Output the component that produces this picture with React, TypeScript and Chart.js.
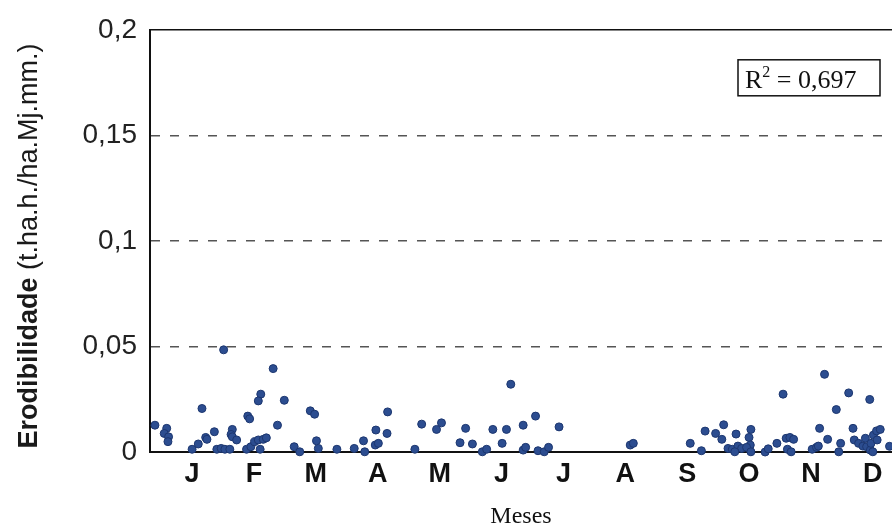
import { useEffect, useRef } from 'react';
import { Chart, registerables } from 'chart.js';

Chart.register(...registerables);

// Month initials shown under the axis (tick k = month k)
const monthLabels = ['J', 'F', 'M', 'A', 'M', 'J', 'J', 'A', 'S', 'O', 'N', 'D'];
const monthTicks = [1, 2, 3, 4, 5, 6, 7, 8, 9, 10, 11, 12];
const yTickValues = [0, 0.05, 0.1, 0.15, 0.2];

// Position of each event in months (1 = mid-January)
const monthPos = [
  0.40, 0.59, 0.55, 0.62, 0.61, 1.00, 1.10, 1.22, 1.24, 1.16,
  1.36, 1.40, 1.47, 1.53, 1.61, 1.51, 1.65, 1.63, 1.65, 1.72,
  1.88, 1.95, 2.01, 2.07, 2.15, 2.10, 1.90, 1.93, 2.11, 2.07,
  2.31, 2.49, 2.38, 2.20, 2.65, 2.74, 2.91, 2.98, 3.01, 3.04,
  3.34, 3.62, 3.77, 3.79, 3.97, 3.96, 4.01, 4.16, 4.15, 4.60,
  4.71, 5.03, 4.95, 5.42, 5.33, 5.53, 5.69, 5.76, 5.86, 6.01,
  6.08, 6.15, 6.35, 6.55, 6.93, 6.35, 6.39, 6.59, 6.69, 6.76,
  8.08, 8.13, 9.05, 9.23, 9.29, 9.46, 9.56, 9.59, 9.79, 10.03,
  10.00, 10.02, 9.66, 9.73, 9.82, 9.88, 9.96, 9.77, 10.03, 10.26,
  10.31, 10.45, 10.55, 10.60, 10.66, 10.72, 10.62, 10.68, 11.02, 11.09,
  11.12, 11.14, 11.22, 11.27, 11.41, 11.45, 11.48, 11.61, 11.68, 11.70,
  11.77, 11.84, 11.88, 11.90, 11.96, 12.00, 12.01, 12.06, 12.12, 11.97,
  12.07, 11.95, 12.27,
];

// Erodibility of each event (t.ha.h./ha.Mj.mm.)
const erodibilidade = [
  0.0127, 0.0112, 0.0088, 0.0072, 0.0049, 0.0013, 0.0038, 0.0069, 0.0060, 0.0206,
  0.0096, 0.0013, 0.0017, 0.0013, 0.0013, 0.0484, 0.0107, 0.0083, 0.0072, 0.0057,
  0.0013, 0.0025, 0.0049, 0.0057, 0.0060, 0.0013, 0.0170, 0.0157, 0.0274, 0.0242,
  0.0395, 0.0245, 0.0127, 0.0067, 0.0025, 0.0001, 0.0195, 0.0179, 0.0053, 0.0017,
  0.0013, 0.0017, 0.0053, 0.0001, 0.0104, 0.0033, 0.0041, 0.0190, 0.0088, 0.0013,
  0.0132, 0.0138, 0.0107, 0.0112, 0.0044, 0.0038, 0.0001, 0.0013, 0.0107, 0.0041,
  0.0107, 0.0321, 0.0127, 0.0170, 0.0119, 0.0009, 0.0022, 0.0006, 0.0001, 0.0022,
  0.0033, 0.0041, 0.0041, 0.0006, 0.0099, 0.0088, 0.0060, 0.0129, 0.0085, 0.0107,
  0.0069, 0.0033, 0.0017, 0.0013, 0.0028, 0.0017, 0.0022, 0.0001, 0.0001, 0.0000,
  0.0015, 0.0041, 0.0274, 0.0065, 0.0069, 0.0060, 0.0013, 0.0001, 0.0013, 0.0022,
  0.0028, 0.0112, 0.0368, 0.0060, 0.0201, 0.0001, 0.0041, 0.0280, 0.0112, 0.0057,
  0.0041, 0.0028, 0.0065, 0.0025, 0.0009, 0.0001, 0.0080, 0.0100, 0.0107, 0.0041,
  0.0057, 0.0249, 0.0027,
];

const r2Value = '0,697';
const yTitleBold = 'Erodibilidade ';
const yTitleUnits = '(t.ha.h./ha.Mj.mm.)';
const xTitle = 'Meses';

const SANS = '"Liberation Sans", Arial, sans-serif';
const SERIF = '"Liberation Serif", "Times New Roman", serif';

const decorations = {
  id: 'decorations',
  beforeDatasetsDraw(chart: any) {
    const { ctx, chartArea } = chart;
    // top frame line
    ctx.save();
    ctx.strokeStyle = '#111';
    ctx.lineWidth = 1.5;
    ctx.beginPath();
    ctx.moveTo(chartArea.left, chartArea.top);
    ctx.lineTo(chart.width, chartArea.top);
    ctx.stroke();
    ctx.restore();
  },
  afterDraw(chart: any) {
    const { ctx, chartArea } = chart;

    // rotated y-axis title
    ctx.save();
    ctx.fillStyle = '#1a1a1a';
    const boldFont = `bold 27px ${SANS}`;
    const normFont = `27px ${SANS}`;
    ctx.font = boldFont;
    const wBold = ctx.measureText(yTitleBold).width;
    ctx.font = normFont;
    const wNorm = ctx.measureText(yTitleUnits).width;
    const total = wBold + wNorm;
    ctx.translate(37, 246);
    ctx.rotate(-Math.PI / 2);
    ctx.textBaseline = 'alphabetic';
    ctx.textAlign = 'left';
    ctx.font = boldFont;
    ctx.fillText(yTitleBold, -total / 2, 0);
    ctx.font = normFont;
    ctx.fillText(yTitleUnits, -total / 2 + wBold, 0);
    ctx.restore();

    // R² box
    ctx.save();
    const bx = 738;
    const by = chartArea.top + 30;
    const bw = 142;
    const bh = 36;
    ctx.fillStyle = '#fff';
    ctx.fillRect(bx, by, bw, bh);
    ctx.strokeStyle = '#111';
    ctx.lineWidth = 1.5;
    ctx.strokeRect(bx, by, bw, bh);
    ctx.fillStyle = '#111';
    ctx.textBaseline = 'alphabetic';
    ctx.textAlign = 'left';
    const base = by + 28;
    let tx = bx + 7;
    ctx.font = `26px ${SERIF}`;
    ctx.fillText('R', tx, base);
    tx += ctx.measureText('R').width;
    ctx.font = `16px ${SERIF}`;
    ctx.fillText('2', tx, base - 11);
    tx += ctx.measureText('2').width;
    ctx.font = `26px ${SERIF}`;
    ctx.fillText(' = ' + r2Value, tx, base);
    ctx.restore();
  },
};

export default function App() {
  const canvasRef = useRef<HTMLCanvasElement | null>(null);

  useEffect(() => {
    const canvas = canvasRef.current;
    if (!canvas) return;
    const points = monthPos.map((x, i) => ({ x, y: erodibilidade[i] }));

    const chart = new Chart(canvas, {
      type: 'scatter',
      data: {
        datasets: [
          {
            data: points,
            backgroundColor: '#2c4d90',
            borderColor: '#1c366f',
            borderWidth: 1,
            pointRadius: 4,
            clip: false,
          } as any,
        ],
      },
      plugins: [decorations],
      options: {
        animation: false,
        responsive: false,
        events: [],
        layout: { autoPadding: false, padding: { top: 27, left: 0, right: 0, bottom: 0 } },
        plugins: {
          legend: { display: false },
          tooltip: { enabled: false },
        },
        scales: {
          x: {
            type: 'linear',
            min: 0.32,
            max: 12.31,
            afterBuildTicks: (scale: any) => {
              scale.ticks = monthTicks.map((v) => ({ value: v }));
            },
            afterFit: (scale: any) => {
              scale.height = 79;
              scale.paddingLeft = 0;
              scale.paddingRight = 0;
            },
            grid: { display: false, drawTicks: false },
            border: { display: true, color: '#111', width: 2 },
            ticks: {
              autoSkip: false,
              maxRotation: 0,
              padding: 6,
              color: '#111',
              font: { family: SANS, size: 27, weight: 'bold' },
              callback: (v: any) => monthLabels[Math.round(Number(v)) - 1] ?? '',
            },
            title: {
              display: true,
              text: xTitle,
              color: '#111',
              font: { family: SERIF, size: 24 },
              padding: { top: 0, bottom: 0 },
            },
          },
          y: {
            type: 'linear',
            min: 0,
            max: 0.2,
            afterBuildTicks: (scale: any) => {
              scale.ticks = yTickValues.map((v) => ({ value: v }));
            },
            afterFit: (scale: any) => {
              scale.width = 150;
            },
            grid: {
              drawTicks: false,
              lineWidth: 1.5,
              color: (c: any) => {
                const v = c.tick ? c.tick.value : 0;
                return v > 0.001 && v < 0.199 ? '#555' : 'rgba(0,0,0,0)';
              },
            },
            border: { display: true, color: '#111', width: 2, dash: [9, 10] },
            ticks: {
              padding: 13,
              color: '#222',
              font: { family: SANS, size: 28 },
              callback: (v: any) => String(Number(v)).replace('.', ','),
            },
          },
        },
      } as any,
    });

    return () => chart.destroy();
  }, []);

  return (
    <div style={{ position: 'absolute', left: 0, top: 0, width: 892, height: 531, background: '#fff' }}>
      <canvas ref={canvasRef} width={892} height={531} style={{ display: 'block' }} />
    </div>
  );
}
